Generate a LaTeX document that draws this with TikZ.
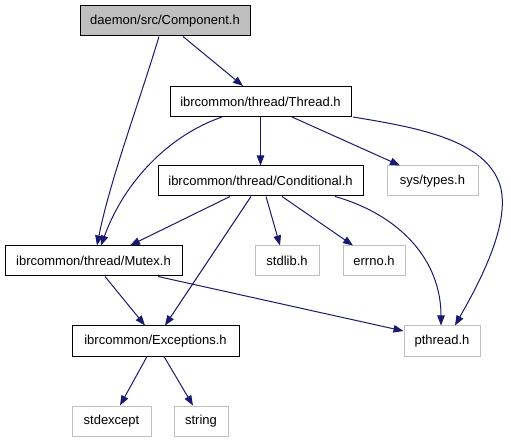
\documentclass[tikz,border=0pt]{standalone}
\usepackage{fontspec}
\setmainfont{Liberation Sans}
\usetikzlibrary{arrows.meta}
\definecolor{edgeblue}{RGB}{25,25,112}
\definecolor{lgray}{RGB}{191,191,191}
\begin{document}
\begin{tikzpicture}[x=1pt,y=-1pt,
  box/.style={draw=black, line width=1pt, inner sep=0pt, minimum height=30pt, font=\fontsize{13}{15}\selectfont},
  sysbox/.style={box, draw=lgray},
  dep/.style={draw=edgeblue, line width=1pt, -{Triangle[length=10pt,width=7.5pt]}}]
\useasboundingbox (0,0) rectangle (511,443);
\node[box, fill=lgray, minimum width=170pt] (comp) at (165,21) {daemon/src/Component.h};
\node[box, minimum width=181pt] (thread) at (260.5,101.5) {ibrcommon/thread/Thread.h};
\node[box, minimum width=205pt] (cond) at (260.5,181) {ibrcommon/thread/Conditional.h};
\node[sysbox, minimum width=91pt] (types) at (432.5,181) {sys/types.h};
\node[box, minimum width=177pt] (mutex) at (93.5,261) {ibrcommon/thread/Mutex.h};
\node[sysbox, minimum width=64pt] (stdlib) at (287,261) {stdlib.h};
\node[sysbox, minimum width=62pt] (errno) at (374,261) {errno.h};
\node[box, minimum width=167pt] (exc) at (155.5,341) {ibrcommon/Exceptions.h};
\node[sysbox, minimum width=76pt] (pthread) at (442,341) {pthread.h};
\node[sysbox, minimum width=79pt] (stdexc) at (111.5,421) {stdexcept};
\node[sysbox, minimum width=54pt] (string) at (201,421) {string};

\draw[dep] (comp.south -| 183,0) -- (thread.north -| 243,0);
\draw[dep] (comp.south -| 159,0) .. controls (140,100) and (110,180) .. (mutex.north -| 97,0);
\draw[dep] (thread.south -| 222,0) .. controls (170,135) and (125,180) .. (mutex.north -| 101,0);
\draw[dep] (thread) -- (cond);
\draw[dep] (thread.south -| 292,0) -- (types.north -| 400,0);
\draw[dep] (thread.south -| 353,0) .. controls (420,128) and (485,140) .. (500,185) .. controls (512,225) and (475,290) .. (pthread.north -| 455,0);
\draw[dep] (cond.south -| 230,0) -- (mutex.north -| 130,0);
\draw[dep] (cond.south -| 251,0) -- (exc.north -| 165,0);
\draw[dep] (cond.south -| 266,0) -- (stdlib.north -| 280,0);
\draw[dep] (cond.south -| 282,0) -- (errno.north -| 353,0);
\draw[dep] (cond.south -| 335,0) .. controls (400,215) and (441,260) .. (pthread.north -| 441,0);
\draw[dep] (mutex.south -| 105,0) -- (exc.north -| 145,0);
\draw[dep] (mutex.south -| 158,0) -- (pthread.west |- 0,331);
\draw[dep] (exc.south -| 147,0) -- (stdexc.north -| 120,0);
\draw[dep] (exc.south -| 164,0) -- (string.north -| 193,0);
\end{tikzpicture}
\end{document}
